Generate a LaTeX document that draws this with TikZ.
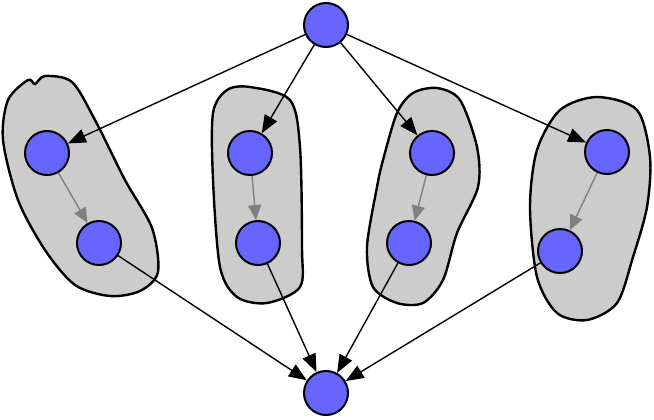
\documentclass[tikz,border=0pt]{standalone}
\usepackage{tikz}
\usetikzlibrary{arrows.meta}
\definecolor{nodeblue}{RGB}{102,102,255}
\definecolor{blobgray}{RGB}{204,204,204}
\tikzset{
	state/.style={draw=black, line width=1pt, fill=nodeblue, circle, minimum size=22pt, inner sep=0pt},
	blob/.style={draw=black, line width=1.2pt, fill=blobgray},
	outer/.style={draw=black, line width=0.7pt, -{Triangle[length=9pt,width=7pt]}},
	inner/.style={draw=gray, line width=0.7pt, -{Triangle[length=7.5pt,width=6.5pt]}},
}

\begin{document}
\begin{tikzpicture}[x=0.5pt,y=-0.5pt]
	\useasboundingbox (0,0) rectangle (654,419);
	% Blobs
	\draw [blob] plot [smooth cycle] coordinates {(8,100) (28,80) (35,84) (45,76) (72,82) (95,120) (125,180) (152,228) (158,272) (140,291) (110,296) (75,285) (45,250) (18,200) (3,140)};
	\draw [blob] plot [smooth cycle] coordinates {(250,87) (290,100) (300,147) (302,247) (300,287) (267,303) (237,297) (220,267) (213,180) (213,113) (227,90)};
	\draw [blob] plot [smooth cycle] coordinates {(437,88) (460,100) (477,147) (478,187) (457,233) (443,280) (423,303) (397,303) (373,287) (367,247) (377,187) (383,160) (397,113) (413,93)};
	\draw [blob] plot [smooth cycle] coordinates {(597,97) (637,110) (650,157) (647,207) (633,257) (617,303) (587,320) (557,313) (537,277) (530,207) (537,150) (560,110)};
	% States
	\node [state] (top) at (326,25) {};
	\node [state] (bot) at (326,393) {};
	\node [state] (a1) at (47,153) {};
	\node [state] (a2) at (99,243) {};
	\node [state] (b1) at (250,153) {};
	\node [state] (b2) at (258,243) {};
	\node [state] (c1) at (432,153) {};
	\node [state] (c2) at (409,243) {};
	\node [state] (d1) at (607,152) {};
	\node [state] (d2) at (560,251) {};
	% Edges
	\foreach \n in {a,b,c,d}{
		\draw [outer] (top) -- (\n1);
		\draw [inner] (\n1) -- (\n2);
		\draw [outer] (\n2) -- (bot);
	}
\end{tikzpicture}
\end{document}
